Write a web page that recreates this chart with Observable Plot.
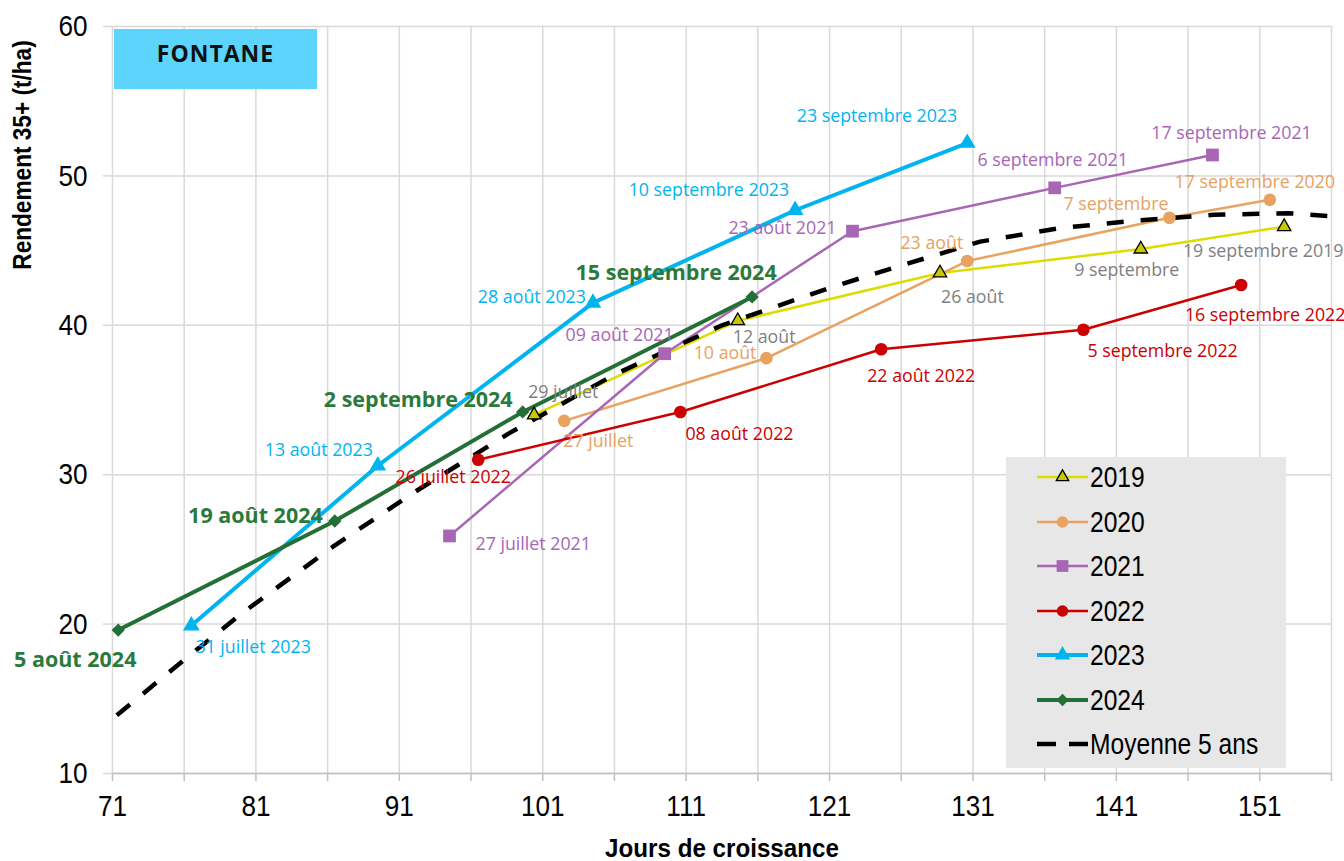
<!DOCTYPE html>
<html>
<head>
<meta charset="utf-8">
<script src="https://cdn.jsdelivr.net/npm/d3@7"></script>
<script src="https://cdn.jsdelivr.net/npm/@observablehq/plot@0.6"></script>
<style>
  body { margin: 0; background: #fff; }
  #wrap { position: relative; width: 1344px; height: 861px; overflow: hidden; }
  #wrap svg { display: block; }
</style>
</head>
<body>
<div id="wrap"></div>
<script>
// ---------- DATA ----------
const days2019 = [100.4, 114.6, 128.7, 142.7, 152.7];
const yield2019 = [34.0, 40.3, 43.5, 45.1, 46.6];
const labels2019 = ["29 juillet", "12 août", "26 août", "9 septembre", "19 septembre 2019"];

const days2020 = [102.5, 116.6, 130.6, 144.7, 151.7];
const yield2020 = [33.6, 37.8, 44.3, 47.2, 48.4];
const labels2020 = ["27 juillet", "10 août", "23 août", "7 septembre", "17 septembre 2020"];

const days2021 = [94.5, 109.5, 122.6, 136.7, 147.7];
const yield2021 = [25.9, 38.1, 46.3, 49.2, 51.4];
const labels2021 = ["27 juillet 2021", "09 août 2021", "23 août 2021", "6 septembre 2021", "17 septembre 2021"];

const days2022 = [96.5, 110.6, 124.6, 138.7, 149.7];
const yield2022 = [31.0, 34.2, 38.4, 39.7, 42.7];
const labels2022 = ["26 juillet 2022", "08 août 2022", "22 août 2022", "5 septembre 2022", "16 septembre 2022"];

const days2023 = [76.5, 89.5, 104.5, 118.6, 130.6];
const yield2023 = [19.9, 30.6, 41.5, 47.7, 52.2];
const labels2023 = ["31 juillet 2023", "13 août 2023", "28 août 2023", "10 septembre 2023", "23 septembre 2023"];

const days2024 = [71.4, 86.5, 99.6, 115.6];
const yield2024 = [19.6, 26.9, 34.2, 41.9];
const labels2024 = ["5 août 2024", "19 août 2024", "2 septembre 2024", "15 septembre 2024"];

const daysAvg = [71.3, 76.5, 80, 86.4, 92, 98.7, 106, 113.5, 118.6, 121.3, 126, 131.5, 137, 142.3, 147.8, 153, 156];
const yieldAvg = [13.9, 18.0, 20.7, 25.2, 28.8, 32.8, 36.7, 40.0, 41.7, 42.6, 44.0, 45.6, 46.5, 47.0, 47.4, 47.5, 47.3];

const years = ["2019", "2020", "2021", "2022", "2023", "2024"];
const avgName = "Moyenne 5 ans";
const siteName = "FONTANE";
const xTitle = "Jours de croissance";
const yTitle = "Rendement 35+ (t/ha)";
const xLabelTicks = [71, 81, 91, 101, 111, 121, 131, 141, 151];
const xGridTicks = [71, 76, 81, 86, 91, 96, 101, 106, 111, 116, 121, 126, 131, 136, 141, 146, 151, 156];
const yTicks = [10, 20, 30, 40, 50, 60];

// ---------- STYLE ----------
const seriesData = {
  "2019": [days2019, yield2019, labels2019],
  "2020": [days2020, yield2020, labels2020],
  "2021": [days2021, yield2021, labels2021],
  "2022": [days2022, yield2022, labels2022],
  "2023": [days2023, yield2023, labels2023],
  "2024": [days2024, yield2024, labels2024]
};
const look = {
  "2019": {stroke: "#DCDC00", sw: 2.5, symbol: "triangle", r: 5.0, fill: "#C8C800", dotStroke: "#000", dotSW: 1.3, lab: "#7F7F7F", fs: 17.8, fw: 400},
  "2020": {stroke: "#E8A262", sw: 2.5, symbol: "circle", r: 6.3, fill: "#E8A262", dotStroke: "none", dotSW: 0, lab: "#E8A262", fs: 17.8, fw: 400},
  "2021": {stroke: "#A866B4", sw: 2.5, symbol: "square", r: 7.2, fill: "#A866B4", dotStroke: "none", dotSW: 0, lab: "#A866B4", fs: 17.8, fw: 400},
  "2022": {stroke: "#CC0000", sw: 2.5, symbol: "circle", r: 6.3, fill: "#CC0000", dotStroke: "none", dotSW: 0, lab: "#CC0000", fs: 17.8, fw: 400},
  "2023": {stroke: "#00B4F0", sw: 4, symbol: "triangle", r: 6.2, fill: "#00B4F0", dotStroke: "none", dotSW: 0, lab: "#00B4F0", fs: 17.8, fw: 400},
  "2024": {stroke: "#236F35", sw: 4, symbol: "diamond2", r: 6.0, fill: "#236F35", dotStroke: "none", dotSW: 0, lab: "#2B7A3B", fs: 21.5, fw: 700}
};
// label placement: [anchor, dx, dy]
const place = {
  "2019": [["start", -6, -23], ["start", -5, 16], ["start", 1, 24], ["middle", -14, 21], ["middle", -21, 25]],
  "2020": [["start", -1, 20], ["end", -10, -5], ["end", -4, -18], ["end", -1, -13], ["middle", -15, -18]],
  "2021": [["start", 26, 8], ["end", 9, -18], ["end", -16, -3], ["middle", -2, -28], ["middle", 19, -22]],
  "2022": [["middle", -25, 18], ["start", 5, 22], ["start", -14, 27], ["start", 4, 22], ["middle", 24, 30]],
  "2023": [["start", 4, 22], ["end", -5, -15], ["end", -7, -6], ["end", -6, -20], ["end", -10, -27]],
  "2024": [["middle", -43, 30], ["end", -12, -5], ["end", -10, -12], ["middle", -76, -24]]
};

const sansFont = '"Liberation Sans", Arial, sans-serif';
const labFont = '"Open Sans", "Noto Sans", sans-serif';

const rows = y => seriesData[y][0].map((d, i) => ({year: y, day: d, val: seriesData[y][1][i], label: seriesData[y][2][i]}));
const avgRows = daysAvg.map((d, i) => ({day: d, val: yieldAvg[i]}));

const marks = [
  Plot.gridX(xGridTicks, {stroke: "#D9D9D9", strokeOpacity: 1, strokeWidth: 1.5}),
  Plot.gridY(yTicks, {stroke: "#D9D9D9", strokeOpacity: 1, strokeWidth: 1.5}),
  Plot.axisY(yTicks, {anchor: "left", tickSize: 9, tickPadding: 16, stroke: "#D9D9D9", strokeWidth: 1.5,
    fontSize: 30, fontFamily: sansFont, fill: "#000", label: null}),
  Plot.axisX(xGridTicks, {anchor: "bottom", tickSize: 8, tickPadding: 13, stroke: "#BFBFBF", strokeWidth: 1.5,
    tickFormat: d => xLabelTicks.includes(d) ? String(d) : "",
    fontSize: 30, fontFamily: sansFont, fill: "#000", label: null}),
  Plot.ruleY([10], {stroke: "#BFBFBF", strokeWidth: 1.5, x1: 71, x2: 156})
];

for (const y of years) {
  const L = look[y];
  marks.push(Plot.line(rows(y), {x: "day", y: "val", stroke: L.stroke, strokeWidth: L.sw, curve: "linear"}));
}
marks.push(Plot.line(avgRows, {x: "day", y: "val", stroke: "#000", strokeWidth: 4.5, strokeDasharray: "17,17", strokeLinecap: "butt"}));
for (const y of years) {
  const L = look[y];
  marks.push(Plot.dot(rows(y), {x: "day", y: "val", symbol: () => L.symbol, r: L.r, fill: L.fill,
    stroke: L.dotStroke, strokeWidth: L.dotSW}));
}
for (const y of years) {
  const L = look[y];
  rows(y).forEach((row, i) => {
    const [anchor, dx, dy] = place[y][i];
    marks.push(Plot.text([row], {x: "day", y: "val", text: "label", textAnchor: anchor, dx, dy,
      fill: L.lab, fontSize: L.fs, fontWeight: L.fw, fontFamily: labFont}));
  });
}

const chart = Plot.plot({
  width: 1344,
  height: 861,
  marginLeft: 112,
  marginRight: 13,
  marginTop: 26,
  marginBottom: 88,
  style: {background: "#fff", overflow: "visible"},
  x: {domain: [71, 156], axis: null},
  y: {domain: [10, 60], axis: null},
  symbol: {type: "identity"},
  marks
});

// condense the tick labels (narrow axis font look)
chart.querySelectorAll('g[aria-label$="tick label"] text').forEach(t => {
  const tr = t.getAttribute("transform") || "";
  t.setAttribute("transform", tr + " scale(0.87,1)");
});

const wrap = document.getElementById("wrap");
wrap.appendChild(chart);

// Axis titles
function addText(txt, css) {
  const d = document.createElement("div");
  d.textContent = txt;
  d.style.cssText = "position:absolute;white-space:nowrap;" + css;
  wrap.appendChild(d);
  return d;
}
addText(xTitle, `left:722px;top:848px;transform:translate(-50%,-50%) scaleX(0.93);font:bold 26px ${sansFont};color:#000;`);
addText(yTitle, `left:22px;top:155px;transform:translate(-50%,-50%) rotate(-90deg) scaleX(0.87);font:bold 26px ${sansFont};color:#000;`);

// Site box
addText(siteName, `left:114px;top:29px;width:203px;height:60px;text-align:center;background:#5CD4FB;font:bold 23px "Open Sans",sans-serif;line-height:48px;letter-spacing:1px;color:#111;`);

// Legend
const leg = document.createElement("div");
leg.style.cssText = "position:absolute;left:1006px;top:457px;width:280px;height:311px;background:#E7E7E7;";
wrap.appendChild(leg);
const legItems = years.map(y => ({name: y, ...look[y]})).concat([{name: avgName, avg: true}]);
const symMap = {triangle: d3.symbolTriangle, circle: d3.symbolCircle, square: d3.symbolSquare, diamond2: d3.symbolDiamond2};
legItems.forEach((it, i) => {
  const row = document.createElement("div");
  row.style.cssText = `position:absolute;left:31px;top:${20 + i * 44.5 - 16}px;height:32px;display:flex;align-items:center;white-space:nowrap;`;
  const ns = "http://www.w3.org/2000/svg";
  const s = document.createElementNS(ns, "svg");
  s.setAttribute("width", 52); s.setAttribute("height", 32);
  s.style.flex = "none";
  const ln = document.createElementNS(ns, "line");
  ln.setAttribute("x1", 0); ln.setAttribute("x2", 51); ln.setAttribute("y1", 16); ln.setAttribute("y2", 16);
  if (it.avg) {
    ln.setAttribute("stroke", "#000"); ln.setAttribute("stroke-width", 4.5); ln.setAttribute("stroke-dasharray", "19,13");
  } else {
    ln.setAttribute("stroke", it.stroke); ln.setAttribute("stroke-width", it.sw);
  }
  s.appendChild(ln);
  if (!it.avg) {
    const p = document.createElementNS(ns, "path");
    p.setAttribute("d", d3.symbol(symMap[it.symbol], Math.PI * it.r * it.r * 0.85)());
    p.setAttribute("transform", "translate(25.5,16)");
    p.setAttribute("fill", it.fill);
    if (it.dotStroke !== "none") { p.setAttribute("stroke", it.dotStroke); p.setAttribute("stroke-width", it.dotSW); }
    s.appendChild(p);
  }
  row.appendChild(s);
  const t = document.createElement("span");
  t.textContent = it.name;
  t.style.cssText = `display:inline-block;font:30px ${sansFont};color:#000;margin-left:1px;transform:scaleX(0.82);transform-origin:left center;`;
  row.appendChild(t);
  leg.appendChild(row);
});
</script>
</body>
</html>
